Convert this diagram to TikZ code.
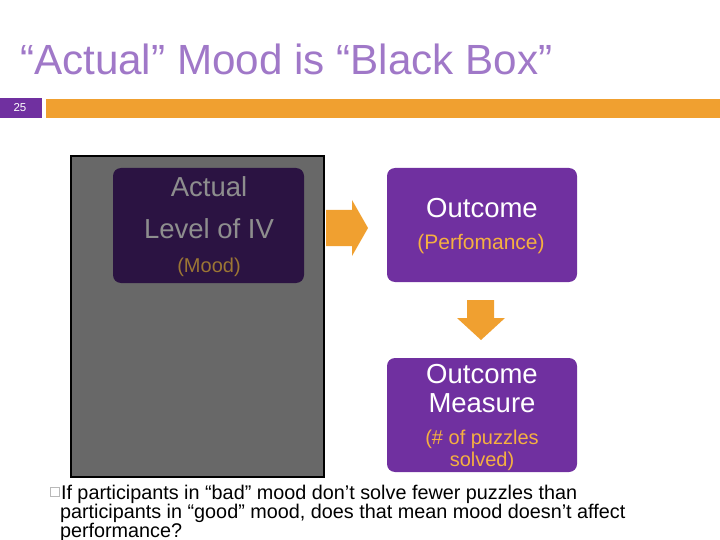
\documentclass[tikz,border=0pt]{standalone}
\usepackage{fontspec}
\setmainfont{Liberation Sans}
\definecolor{titlec}{HTML}{A078C8}
\definecolor{purp}{HTML}{7030A0}
\definecolor{orng}{HTML}{F0A030}
\definecolor{grayb}{HTML}{686868}
\definecolor{darkp}{HTML}{2B1342}
\definecolor{dimtxt}{HTML}{8E8E8E}
\definecolor{dimorng}{HTML}{9C7634}
\definecolor{lorng}{HTML}{F5B040}
\begin{document}
\begin{tikzpicture}[x=1pt,y=-1pt,
  every node/.style={inner sep=0pt,outer sep=0pt},
  rbox/.style={rounded corners=8pt},
  big/.style={font=\fontsize{27.5}{27.5}\selectfont},
  small/.style={font=\fontsize{20}{20}\selectfont},
  btxt/.style={anchor=base west,font=\fontsize{19.8}{20}\selectfont}]
\useasboundingbox (0,0) rectangle (720,540);
% title
\node[anchor=base west,text=titlec,font=\fontsize{42.2}{42.2}\selectfont] (title) at (20,75) {“Actual” Mood is “Black Box”};
% header bars
\fill[purp] (0,98) rectangle (42,118);
\node[text=white,font=\fontsize{11.5}{11.5}\selectfont] (num) at (20,108) {25};
\fill[orng] (46,99) rectangle (720,118);
% gray black box
\draw[fill=grayb,draw=black,line width=2pt] (71,156) rectangle (324,477);
% actual level box
\fill[darkp,rbox] (113,168) rectangle (304,283);
\node[big,text=dimtxt] (a1) at (209,187) {Actual};
\node[big,text=dimtxt] (a2) at (209,229) {Level of IV};
\node[small,text=dimorng] (a3) at (209,267) {(Mood)};
% right arrow
\fill[orng] (326,210) -- (352,210) -- (352,200) -- (368,228) -- (352,256) -- (352,246) -- (326,246) -- cycle;
% outcome box
\fill[purp,rbox] (387,168) rectangle (577,282);
\node[big,text=white] (o1) at (482,208) {Outcome};
\node[small,text=lorng,font=\fontsize{21}{21}\selectfont] (o2) at (481,244) {(Perfomance)};
% down arrow
\fill[orng] (467,300) -- (494,300) -- (494,318) -- (505,318) -- (481,340) -- (457,318) -- (467,318) -- cycle;
% outcome measure box
\fill[purp,rbox] (387,358) rectangle (577,472);
\node[big,text=white] (m1) at (482,374) {Outcome};
\node[big,text=white] (m2) at (482,403) {Measure};
\node[small,text=lorng] (m3) at (482,439) {(\# of puzzles};
\node[small,text=lorng] (m4) at (482,461) {solved)};
% bullet
\draw[gray!55,line width=0.9pt] (50,487) rectangle (59.5,496.5);
\node[btxt] (b1) at (61,499) {If participants in “bad” mood don’t solve fewer puzzles than};
\node[btxt] (b2) at (60,518) {participants in “good” mood, does that mean mood doesn’t affect};
\node[btxt] (b3) at (60,537) {performance?};
\end{tikzpicture}
\end{document}
